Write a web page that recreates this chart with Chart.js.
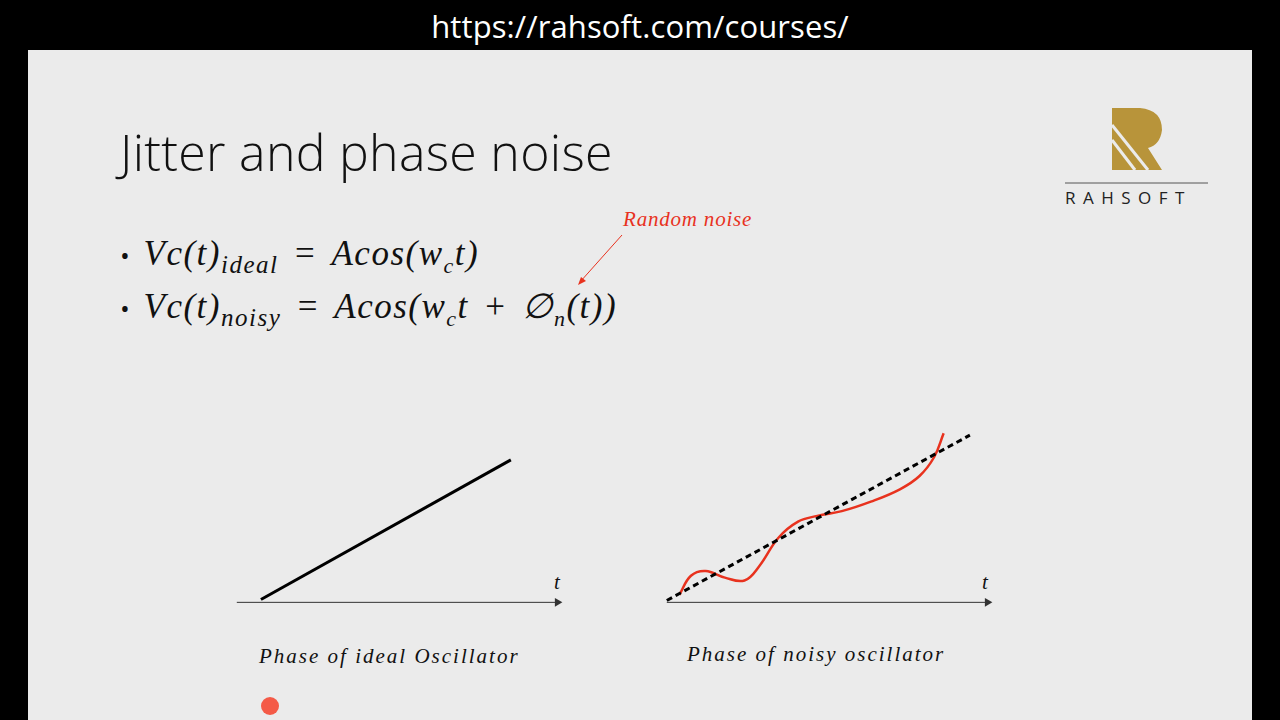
<!DOCTYPE html>
<html><head><meta charset="utf-8">
<script src="https://cdn.jsdelivr.net/npm/chart.js@4"></script>
<style>
body{margin:0;width:1280px;height:720px;background:#000;position:relative;overflow:hidden;font-family:"Open Sans",sans-serif}
#slide{position:absolute;left:28px;top:50px;width:1224px;height:670px;background:#ebebeb}
.abs{position:absolute;white-space:nowrap}
.eq{font-family:"Liberation Serif",serif;font-style:italic;font-size:35px;color:#111;letter-spacing:1.5px;word-spacing:4px}
.cap{font-family:"Liberation Serif",serif;font-style:italic;font-size:21px;color:#111;letter-spacing:2px}
canvas{position:absolute}
</style></head><body>
<div class="abs" style="left:0;width:1280px;top:5px;text-align:center;color:#fff;font-size:31px;letter-spacing:0.1px">https://rahsoft.com/courses/</div>
<div id="slide"></div>
<div class="abs" style="left:120px;top:118px;font-size:50px;font-weight:300;color:#111;letter-spacing:0.3px">Jitter and phase noise</div>
<div class="abs eq" style="left:120px;top:234px"><span style="font-style:normal;font-family:'Open Sans';font-size:26px">• </span>Vc(t)<sub style="font-size:25px">ideal</sub> = Acos(w<sub style="font-size:22px">c</sub>t)</div>
<div class="abs eq" style="left:120px;top:286px"><span style="font-style:normal;font-family:'Open Sans';font-size:26px">• </span>Vc(t)<sub style="font-size:25px">noisy</sub> = Acos(w<sub style="font-size:22px">c</sub>t + ∅<sub style="font-size:22px">n</sub>(t))</div>
<div class="abs" style="left:623px;top:207px;font-family:'Liberation Serif',serif;font-style:italic;font-size:21px;color:#e8321e;letter-spacing:0.8px">Random noise</div>
<svg class="abs" style="left:0;top:0" width="1280" height="720"><line x1="622" y1="235" x2="580" y2="282" stroke="#e8321e" stroke-width="1"/><polygon points="578,285 581,277 586,281" fill="#e8321e"/>
<path d="M1112,108 H1140 Q1162,110 1162,130 Q1160,145 1148,148 L1162,170 H1112 Z" fill="#b8943a"/><line x1="1112" y1="140" x2="1135" y2="170" stroke="#ebebeb" stroke-width="3"/><line x1="1112" y1="125" x2="1148" y2="170" stroke="#ebebeb" stroke-width="3"/><line x1="1065" y1="183" x2="1208" y2="183" stroke="#555" stroke-width="1"/>
<circle cx="270" cy="706" r="9" fill="#f45a47"/></svg>
<div class="abs" style="left:1065px;top:186px;font-size:17px;letter-spacing:7.5px;color:#222">RAHSOFT</div>
<div class="abs cap" style="left:259px;top:644px">Phase of ideal Oscillator</div>
<div class="abs cap" style="left:687px;top:642px">Phase of noisy oscillator</div>
<div class="abs cap" style="left:554px;top:570px">t</div>
<div class="abs cap" style="left:982px;top:570px">t</div>
<canvas id="c1" width="360" height="200" style="left:222px;top:414px"></canvas>
<canvas id="c2" width="360" height="200" style="left:652px;top:414px"></canvas>
<script>
const axisX=[0.28,9.44], axisY=[0.35,0.35];
const idealX=[0.97,8.11], idealY=[0.5,7.85];
const refX=[0.28,8.94], refY=[0.45,9.15];
const noisyX=[0.64,0.97,1.39,1.94,2.5,2.92,3.47,4.03,4.58,5.28,6.11,6.94,7.5,7.92,8.19];
const noisyY=[0.75,1.75,2.0,1.65,1.5,2.25,3.75,4.6,4.9,5.15,5.65,6.3,7.0,8.0,9.25];
const pts=(xs,ys)=>xs.map((x,i)=>({x,y:ys[i]}));
function axisDs(){return {data:pts(axisX,axisY),borderColor:'#333',borderWidth:1,pointRadius:[0,5],pointStyle:'triangle',pointRotation:[0,90],backgroundColor:'#333',pointBorderWidth:0};}
function opts(){return {responsive:false,animation:false,layout:{padding:0},plugins:{legend:{display:false},tooltip:{enabled:false}},
scales:{x:{type:'linear',min:0,max:10,display:false},y:{min:0,max:10,display:false}}};}
new Chart(document.getElementById('c1'),{type:'line',data:{datasets:[axisDs(),{data:pts(idealX,idealY),borderColor:'#000',borderWidth:3,pointRadius:0}]},options:opts()});
new Chart(document.getElementById('c2'),{type:'line',data:{datasets:[axisDs(),
{data:pts(refX,refY),borderColor:'#000',borderWidth:3,borderDash:[6,4],pointRadius:0},
{data:pts(noisyX,noisyY),borderColor:'#e8321e',borderWidth:2.5,pointRadius:0,tension:0.4}]},options:opts()});
</script></body></html>
